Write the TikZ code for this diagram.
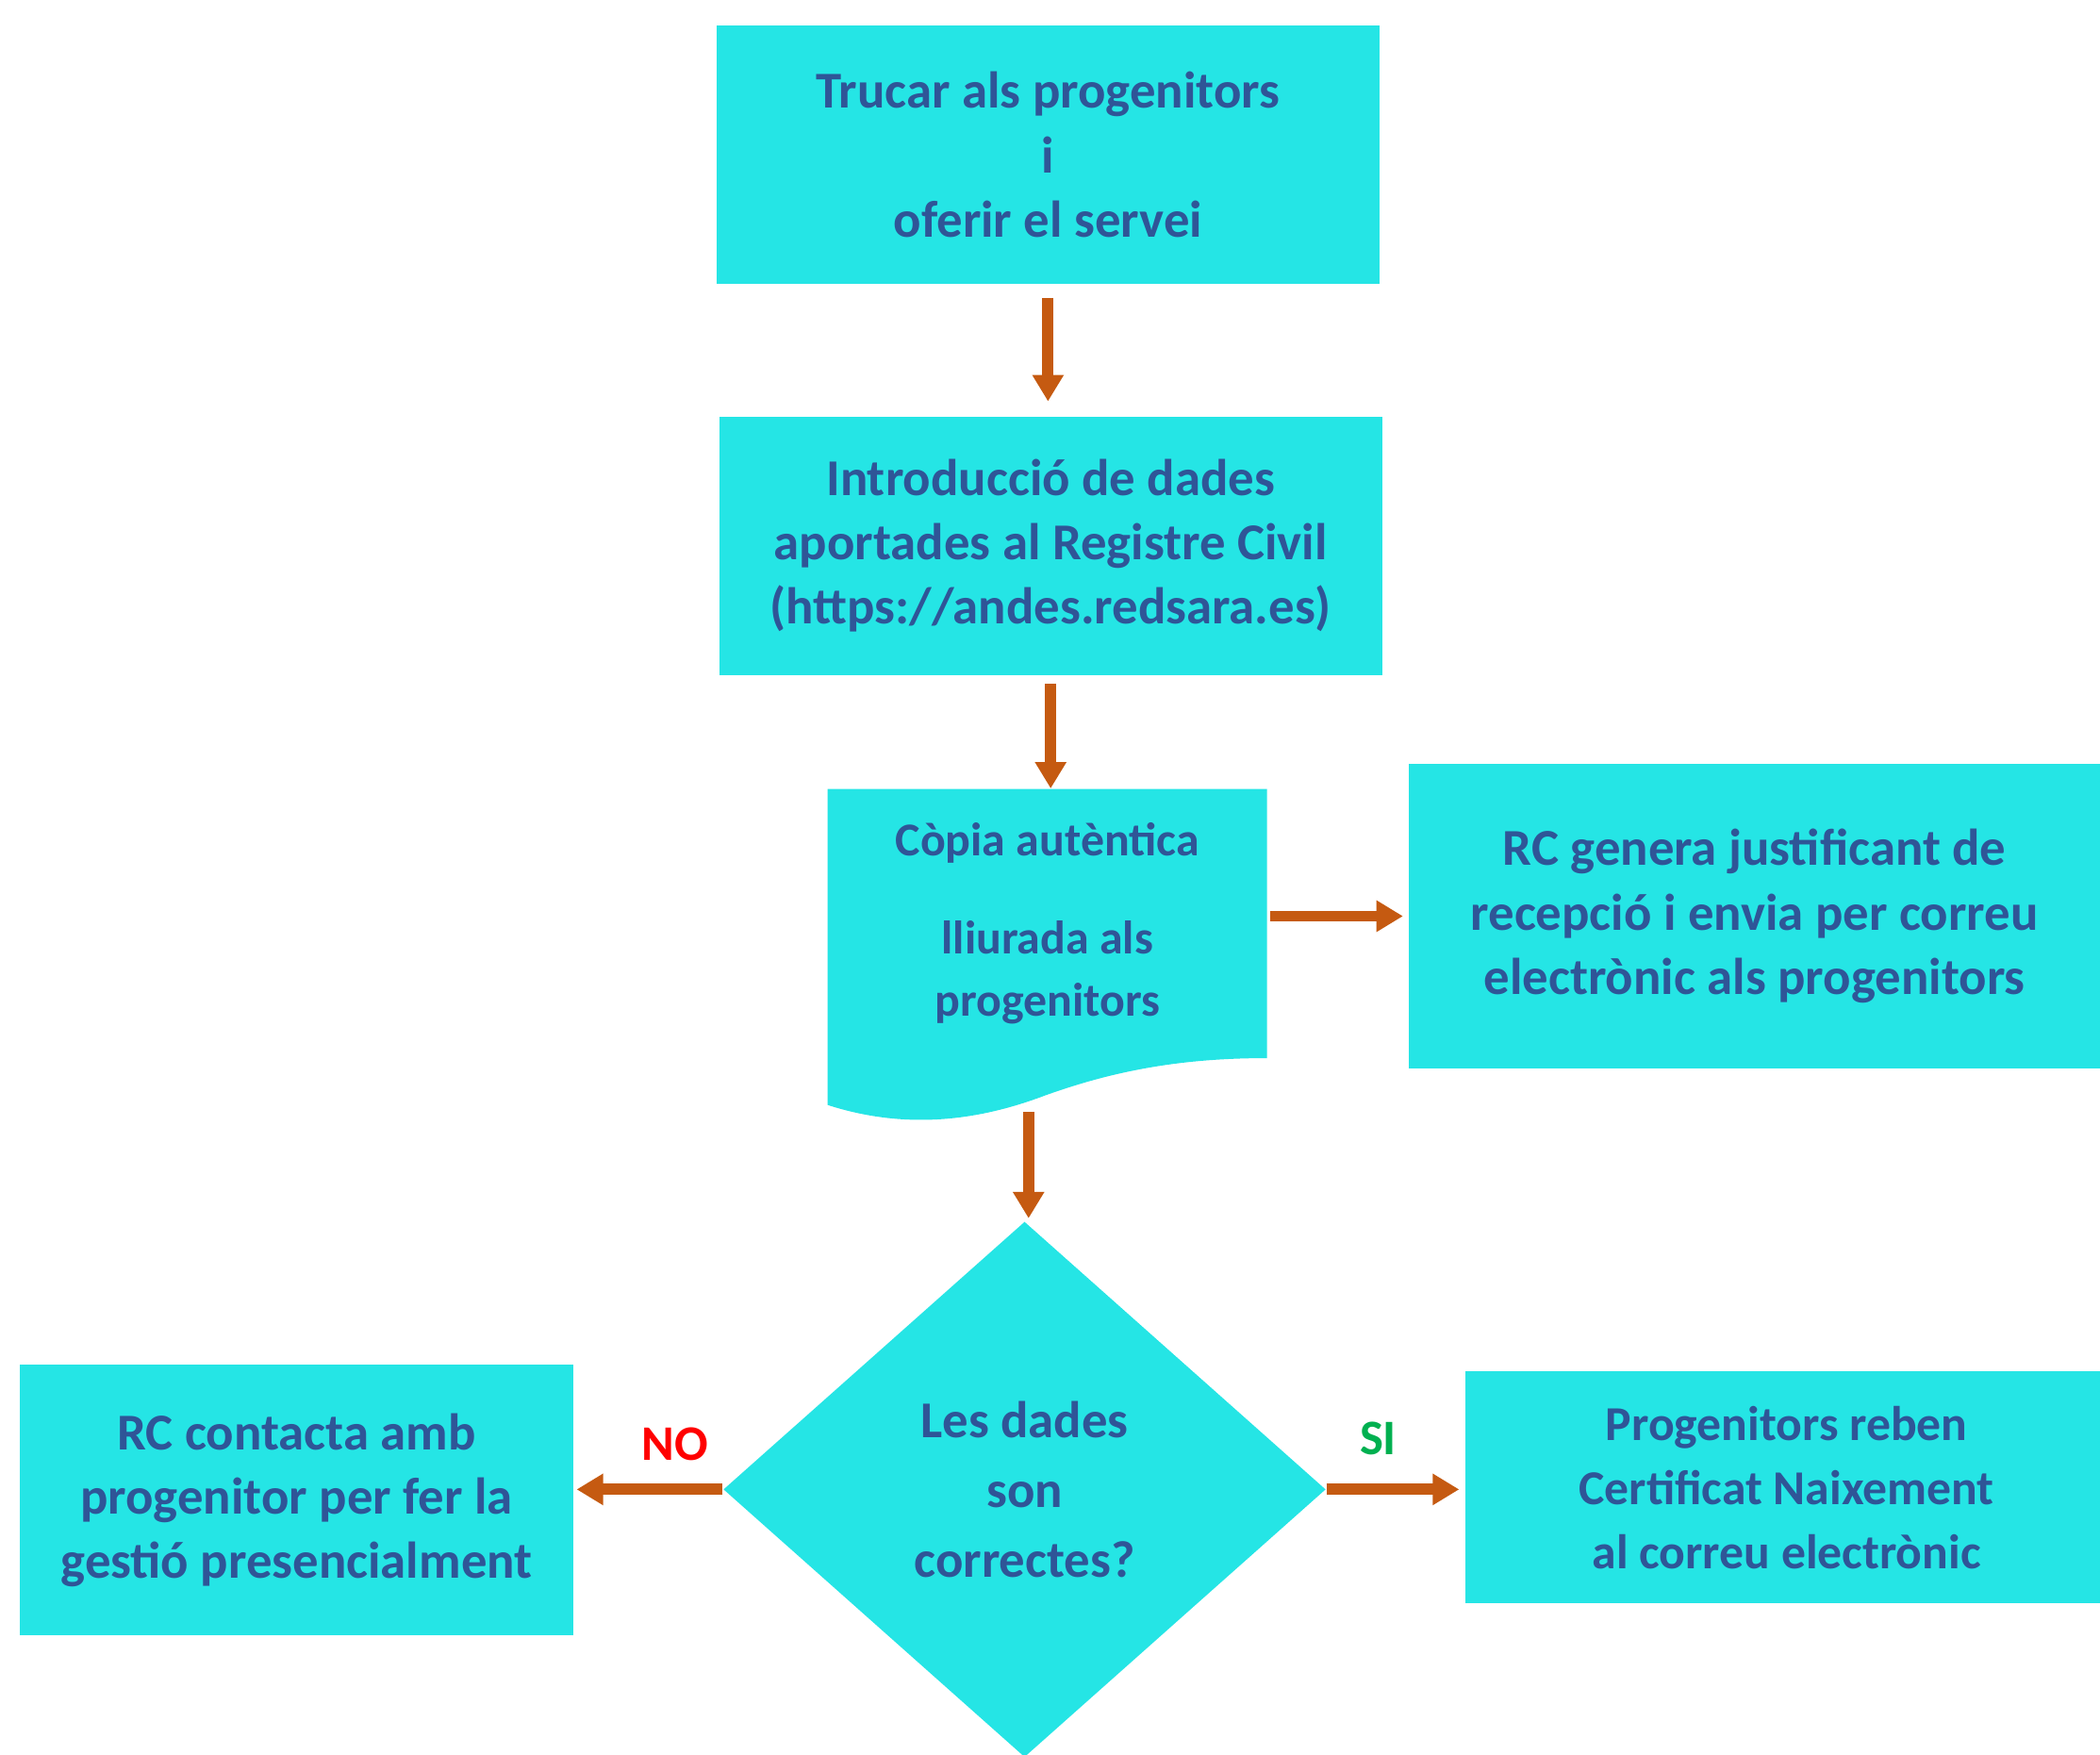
\documentclass[tikz,border=0pt]{standalone}
\usepackage{fontspec}
\setmainfont{Carlito}
\usetikzlibrary{arrows.meta,positioning,calc,shapes.geometric}
\definecolor{boxfill}{RGB}{37,229,229}
\definecolor{boxtext}{RGB}{47,85,151}
\definecolor{flowarrow}{RGB}{197,90,17}
\definecolor{nored}{RGB}{255,0,0}
\definecolor{sigreen}{RGB}{0,176,80}

\begin{document}
\begin{tikzpicture}[x=0.014203cm,y=-0.014203cm,
  box/.style={rectangle,fill=boxfill,text=boxtext,align=center,inner sep=0pt,
    font=\fontsize{15.6}{19.4}\selectfont\bfseries},
  decision/.style={diamond,fill=boxfill,text=boxtext,align=center,inner sep=0pt,
    minimum width=6.39cm,minimum height=5.68cm,
    font=\fontsize{15.6}{21}\selectfont\bfseries},
  flow/.style={draw=flowarrow,line width=3.4pt,-{Triangle[length=8pt,width=9pt]}},
  lbl/.style={font=\fontsize{15}{18}\selectfont\bfseries}]
  \useasboundingbox (0,0) rectangle (1568,1310);

  % boxes
  \node[box,minimum width=7.03cm,minimum height=2.74cm] (trucar) at (782.5,115.5)
    {Trucar als progenitors\\i\\oferir el servei};
  \node[box,minimum width=7.03cm,minimum height=2.74cm] (intro) at (784.5,407.5)
    {Introducció de dades\\aportades al Registre Civil\\(https://andes.redsara.es)};

  % document shape
  \fill[boxfill] (618,589) -- (946,589) -- (946,790)
    .. controls (880,790) and (830,800) .. (780,818)
    .. controls (735,835) and (680,845) .. (618,825) -- cycle;
  \node[text=boxtext,align=center,inner sep=0pt,minimum width=4.66cm,minimum height=2.85cm,
    font=\fontsize{14.2}{18.6}\selectfont\bfseries] (copia) at (782,689.5)
    {Còpia autèntica\\[11pt]lliurada als\\progenitors};
  \coordinate (copiaout) at (768,830);

  \node[box,minimum width=7.33cm,minimum height=3.24cm] (genera) at (1310,684)
    {RC genera justificant de\\recepció i envia per correu\\electrònic als progenitors};

  % decision
  \node[decision] (dades) at (765,1112) {Les dades\\son\\correctes?};
  \node[box,minimum width=5.87cm,minimum height=2.87cm] (contacta) at (221.5,1120)
    {RC contacta amb\\progenitor per fer la\\gestió presencialment};
  \node[box,minimum width=6.82cm,minimum height=2.46cm,
    font=\fontsize{14.7}{19.4}\selectfont\bfseries] (reben) at (1334,1110.5)
    {Progenitors reben\\Certificat Naixement\\al correu electrònic};

  % connectors
  \draw[flow,shorten <=4pt,shorten >=4.4pt] (trucar.south) -- (trucar.south |- intro.north);
  \draw[flow,shorten <=2.4pt] (intro.south) -- (intro.south |- copia.north);
  \draw[flow,shorten <=0.8pt,shorten >=1.6pt] (copia.east |- genera.west) -- (genera.west);
  \draw[flow,shorten >=0.8pt] (copiaout) -- (copiaout |- dades.north);
  \draw[flow,shorten >=0.8pt] (dades.west) -- (contacta.east |- dades.west);
  \draw[flow,shorten >=1.6pt] (dades.east) -- (reben.west |- dades.east);

  % labels
  \node[lbl,text=nored] (no) at (504,1078) {NO};
  \node[lbl,text=sigreen] (si) at (1029,1074) {SI};
\end{tikzpicture}
\end{document}
